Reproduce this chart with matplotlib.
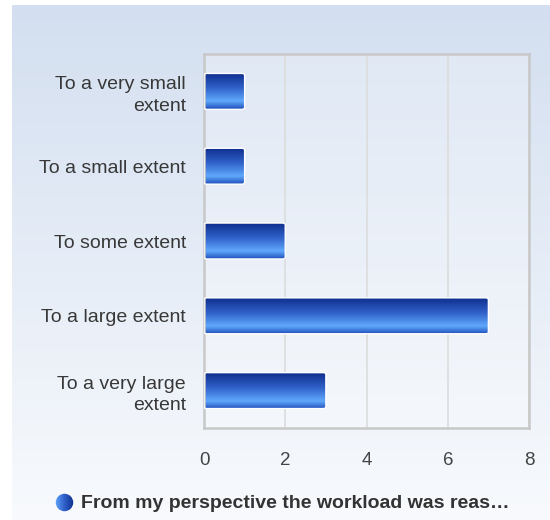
import numpy as np
import matplotlib
matplotlib.use("Agg")
import matplotlib.pyplot as plt
from matplotlib.colors import LinearSegmentedColormap
from matplotlib.patches import FancyBboxPatch

plt.rcParams['font.family'] = ['Liberation Sans', 'DejaVu Sans']

categories = ["To a very small\nextent", "To a small extent", "To some extent",
              "To a large extent", "To a very large\nextent"]
values = [1, 1, 2, 7, 3]
xticks = [0, 2, 4, 6, 8]
legend_label = "From my perspective the workload was reas…"

W, H = 550, 520
fig = plt.figure(figsize=(W / 100, H / 100), dpi=100)

# background panel gradient
bg = fig.add_axes([12 / W, 0, 1 - 12 / W, 515 / H], zorder=-10)
bgcmap = LinearSegmentedColormap.from_list("bg", ["#d3dff0", "#f8fafd"])
grad = np.linspace(0, 1, 256).reshape(-1, 1)
bg.imshow(grad, aspect="auto", cmap=bgcmap, extent=[0, 1, 0, 1], origin="upper")
bg.set_axis_off()

ax = fig.add_axes([204 / W, (H - 428) / H, (529 - 204) / W, (428 - 54) / H])
ax.set_facecolor((1, 1, 1, 0.25))
ax.set_xlim(0, 8)
n = len(categories)
ax.set_ylim(n - 0.5, -0.5)

barcmap = LinearSegmentedColormap.from_list(
    "bar", [(0, "#0f2f8e"), (0.4, "#2f60c8"), (0.78, "#60a8fc"), (1.0, "#2050bc")])
bh = 0.48
for i, v in enumerate(values):
    patch = FancyBboxPatch((0, i - bh / 2), v, bh,
                           boxstyle="round,pad=0,rounding_size=0.06",
                           mutation_aspect=1 / 2.3,
                           facecolor="none", edgecolor="white", linewidth=1.0, zorder=3)
    ax.add_patch(patch)
    img = ax.imshow(np.linspace(0, 1, 100).reshape(-1, 1), cmap=barcmap, aspect="auto",
                    extent=[0, v, i + bh / 2, i - bh / 2], origin="upper", zorder=2)
    img.set_clip_path(patch)

ax.set_aspect("auto")
ax.set_xlim(0, 8)
ax.set_ylim(n - 0.5, -0.5)

ax.set_xticks(xticks)
ax.set_xticklabels([str(t) for t in xticks], fontsize=13.5, color="#444444")
ax.set_yticks(range(n))
ax.set_yticklabels(categories, fontsize=14, color="#383838", linespacing=1.35)
ax.tick_params(axis="both", length=0)
ax.tick_params(axis="x", pad=17)
ax.tick_params(axis="y", pad=13)
ax.grid(axis="x", color="#dcdcdc", linewidth=1.2, zorder=0)
ax.set_axisbelow(True)
for s in ax.spines.values():
    s.set_color("#c8c8c8")
    s.set_linewidth(1.8)

# legend
ly = (H - 503) / H
circ_ax = fig.add_axes([(55) / W, (H - 512) / H, 19 / W, 19 / H])
circ_ax.set_axis_off()
circ = plt.Circle((0.5, 0.5), 0.46, transform=circ_ax.transAxes, facecolor="none", edgecolor="none")
circ_ax.add_patch(circ)
hcmap = LinearSegmentedColormap.from_list("h", ["#5ea5fb", "#2f5fc8", "#0f2f8e"])
im = circ_ax.imshow(np.linspace(0, 1, 100).reshape(1, -1), cmap=hcmap, aspect="auto",
                    extent=[0, 1, 0, 1], transform=circ_ax.transAxes)
im.set_clip_path(circ)
circ_ax.set_xlim(0, 1)
circ_ax.set_ylim(0, 1)
fig.text(81 / W, ly, legend_label, fontsize=14, fontweight="bold", color="#333333",
         va="center", ha="left")

fig.savefig("out.png", dpi=100)
